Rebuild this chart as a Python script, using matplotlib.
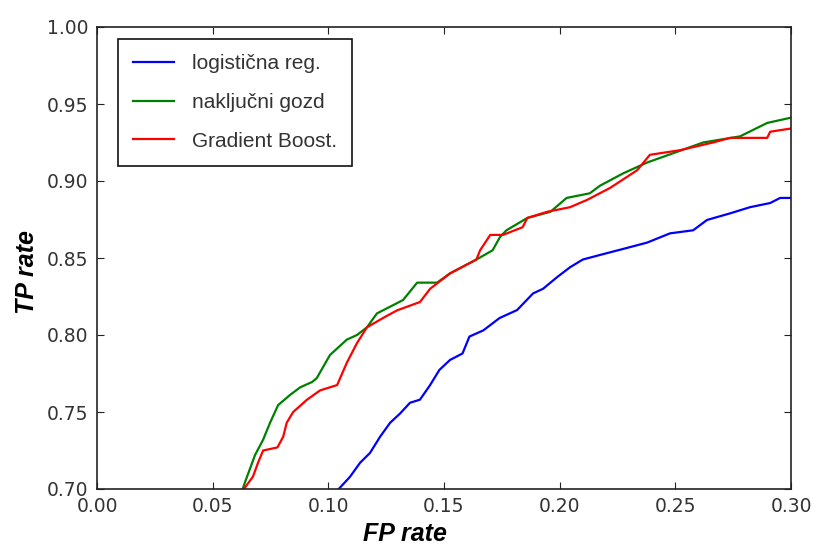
import matplotlib
matplotlib.use("Agg")
import matplotlib.pyplot as plt

labels = ["logistična reg.", "naključni gozd", "Gradient Boost."]
colors = ["#0000ff", "#008000", "#ff0000"]

lr_fpr = [0.1045, 0.1094, 0.1137, 0.118, 0.1224, 0.1267, 0.131, 0.1353, 0.1396, 0.144,
          0.148, 0.1526, 0.158, 0.161, 0.167, 0.174, 0.1816, 0.1885, 0.1928, 0.199,
          0.2045, 0.210, 0.2175, 0.229, 0.2378, 0.2477, 0.2577, 0.2637, 0.2737, 0.2823,
          0.291, 0.2953, 0.301]
lr_tpr = [0.700, 0.708, 0.717, 0.7234, 0.734, 0.743, 0.749, 0.756, 0.758, 0.7675,
          0.7773, 0.7838, 0.788, 0.799, 0.803, 0.811, 0.8162, 0.827, 0.830, 0.8377,
          0.844, 0.849, 0.852, 0.8565, 0.860, 0.866, 0.868, 0.8747, 0.879, 0.883,
          0.8857, 0.889, 0.889]

rf_fpr = [0.063, 0.064, 0.0683, 0.0718, 0.0748, 0.0783, 0.0834, 0.0878, 0.093, 0.095,
          0.1007, 0.108, 0.1124, 0.1167, 0.121, 0.1323, 0.1384, 0.147, 0.1526, 0.164,
          0.171, 0.1742, 0.177, 0.186, 0.196, 0.203, 0.213, 0.2175, 0.2275, 0.2378,
          0.249, 0.262, 0.278, 0.2897, 0.2996, 0.301]
rf_tpr = [0.700, 0.7045, 0.722, 0.732, 0.743, 0.7545, 0.761, 0.766, 0.7695, 0.772,
          0.787, 0.797, 0.800, 0.805, 0.814, 0.8227, 0.834, 0.834, 0.840, 0.849,
          0.855, 0.8636, 0.868, 0.876, 0.880, 0.889, 0.892, 0.897, 0.905, 0.912,
          0.918, 0.925, 0.929, 0.9377, 0.941, 0.941]

gb_fpr = [0.0635, 0.064, 0.0674, 0.0696, 0.0718, 0.078, 0.0805, 0.082, 0.0848, 0.0908,
          0.0964, 0.1038, 0.108, 0.1124, 0.1167, 0.1236, 0.1297, 0.1396, 0.144, 0.1526,
          0.164, 0.1656, 0.170, 0.1755, 0.184, 0.186, 0.1946, 0.2045, 0.2118, 0.2218,
          0.2335, 0.239, 0.252, 0.2663, 0.2737, 0.2897, 0.291, 0.2996, 0.301]
gb_tpr = [0.700, 0.701, 0.708, 0.717, 0.725, 0.727, 0.734, 0.743, 0.750, 0.758,
          0.764, 0.7675, 0.782, 0.7948, 0.805, 0.811, 0.816, 0.8214, 0.830, 0.840,
          0.849, 0.855, 0.865, 0.865, 0.870, 0.876, 0.880, 0.883, 0.8877, 0.8955,
          0.907, 0.917, 0.920, 0.925, 0.928, 0.928, 0.932, 0.934, 0.934]

x_ticks = [0.00, 0.05, 0.10, 0.15, 0.20, 0.25, 0.30]
y_ticks = [0.70, 0.75, 0.80, 0.85, 0.90, 0.95, 1.00]

fig = plt.figure(figsize=(8.16, 5.47), dpi=100)
fig.patch.set_facecolor("white")
ax = fig.add_axes([97 / 816, 1 - 489 / 547, 694 / 816, 462 / 547])

series = [(lr_fpr, lr_tpr), (rf_fpr, rf_tpr), (gb_fpr, gb_tpr)]
for (xs, ys), lab, c in zip(series, labels, colors):
    ax.plot(xs, ys, color=c, lw=1.6, label=lab)

ax.set_xlim(0.0, 0.30)
ax.set_ylim(0.70, 1.00)
ax.set_xticks(x_ticks)
ax.set_yticks(y_ticks)
ax.set_xticklabels([f"{v:.2f}" for v in x_ticks])
ax.set_yticklabels([f"{v:.2f}" for v in y_ticks])
ax.tick_params(direction="in", length=5, width=0.8, top=True, right=True,
               labelsize=13.5, colors="#222222", labelcolor="#333333", pad=6)
for sp in ax.spines.values():
    sp.set_linewidth(1.2)
    sp.set_color("#222222")

ax.set_xlabel("FP rate", fontsize=18, fontweight="bold", fontstyle="italic",
              family="Liberation Sans")
ax.set_ylabel("TP rate", fontsize=18, fontweight="bold", fontstyle="italic",
              family="Liberation Sans")
ax.xaxis.set_label_coords(0.444, -0.072)
ax.yaxis.set_label_coords(-0.083, 0.47)

leg = ax.legend(loc="upper left", bbox_to_anchor=(0.030, 0.974), borderaxespad=0,
                prop={"family": "Liberation Sans", "size": 15},
                handlelength=2.0, handletextpad=0.85, labelspacing=0.95,
                borderpad=0.72, fancybox=False, framealpha=1)
leg.get_frame().set_edgecolor("#111111")
leg.get_frame().set_linewidth(1.2)
for t in leg.get_texts():
    t.set_color("#333333")

fig.savefig("out.png", dpi=100, facecolor="white")
